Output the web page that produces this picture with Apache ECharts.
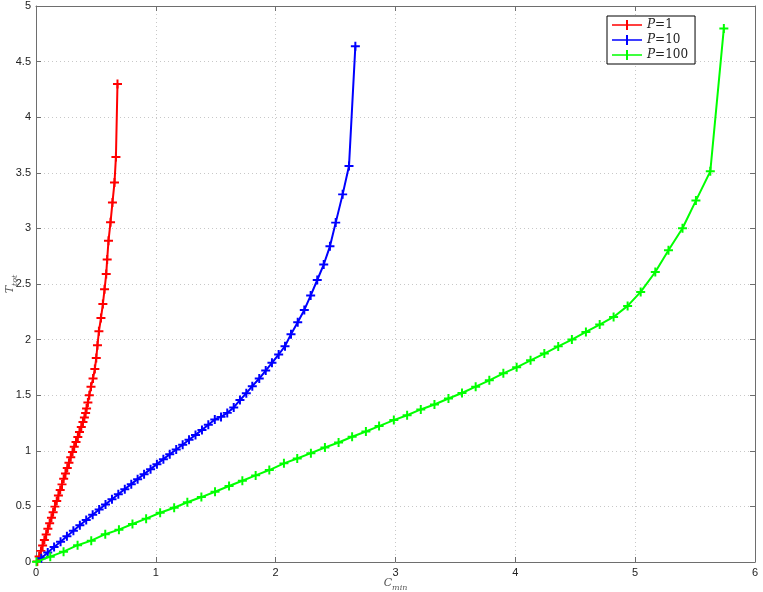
<!DOCTYPE html>
<html>
<head>
<meta charset="utf-8">
<script src="https://cdn.jsdelivr.net/npm/echarts@6/dist/echarts.min.js"></script>
<style>
  html, body { margin: 0; padding: 0; background: #fff; }
  #chart { width: 763px; height: 592px; }
</style>
</head>
<body>
<div id="chart"></div>
<script>
// values
const xTicks = [0, 1, 2, 3, 4, 5, 6]
const yTicks = [0, 0.5, 1, 1.5, 2, 2.5, 3, 3.5, 4, 4.5, 5]
const seriesNames = ['1', '10', '100']

const p1X = [0.011, 0.026, 0.041, 0.055, 0.070, 0.085, 0.099, 0.114, 0.129, 0.143,
    0.158, 0.173, 0.187, 0.202, 0.217, 0.231, 0.246, 0.261, 0.275, 0.290,
    0.305, 0.319, 0.334, 0.349, 0.363, 0.378, 0.392, 0.404, 0.414, 0.422,
    0.433, 0.445, 0.459, 0.476, 0.491, 0.503, 0.513, 0.525, 0.542, 0.558,
    0.572, 0.586, 0.594, 0.605, 0.622, 0.638, 0.655, 0.667, 0.680]
const p1Y = [0.005, 0.050, 0.100, 0.148, 0.198, 0.248, 0.298, 0.348, 0.398, 0.448,
    0.498, 0.548, 0.598, 0.648, 0.698, 0.748, 0.796, 0.845, 0.893, 0.942,
    0.990, 1.036, 1.080, 1.125, 1.170, 1.215, 1.258, 1.300, 1.340, 1.381,
    1.434, 1.500, 1.575, 1.650, 1.736, 1.835, 1.949, 2.075, 2.194, 2.320,
    2.452, 2.589, 2.721, 2.889, 3.056, 3.232, 3.412, 3.643, 4.298]

const p10X = [0.044, 0.098, 0.151, 0.205, 0.258, 0.312, 0.366, 0.419, 0.473, 0.527,
    0.580, 0.634, 0.687, 0.741, 0.795, 0.848, 0.902, 0.956, 1.009, 1.063,
    1.116, 1.170, 1.224, 1.277, 1.331, 1.385, 1.438, 1.492, 1.544, 1.596,
    1.650, 1.702, 1.755, 1.805, 1.863, 1.917, 1.969, 2.025, 2.078, 2.128,
    2.184, 2.239, 2.292, 2.347, 2.401, 2.453, 2.501, 2.559, 2.612, 2.665]
const p10Y = [0.034, 0.085, 0.134, 0.183, 0.232, 0.281, 0.330, 0.378, 0.425, 0.472,
    0.518, 0.564, 0.610, 0.655, 0.700, 0.745, 0.790, 0.835, 0.880, 0.925,
    0.968, 1.012, 1.055, 1.099, 1.143, 1.188, 1.234, 1.282, 1.305, 1.341,
    1.390, 1.456, 1.518, 1.581, 1.650, 1.722, 1.791, 1.866, 1.941, 2.049,
    2.156, 2.267, 2.396, 2.536, 2.675, 2.839, 3.052, 3.306, 3.561, 4.639]

const p100X = [0.004, 0.119, 0.230, 0.347, 0.461, 0.578, 0.692, 0.805, 0.919, 1.036,
    1.153, 1.263, 1.380, 1.494, 1.611, 1.722, 1.833, 1.947, 2.069, 2.180,
    2.294, 2.411, 2.525, 2.638, 2.753, 2.863, 2.986, 3.097, 3.211, 3.325,
    3.442, 3.555, 3.669, 3.783, 3.900, 4.011, 4.127, 4.242, 4.358, 4.472,
    4.589, 4.704, 4.820, 4.937, 5.046, 5.168, 5.278, 5.395, 5.507, 5.627, 5.740]
const p100Y = [0.002, 0.048, 0.093, 0.151, 0.192, 0.250, 0.291, 0.342, 0.390, 0.443,
    0.488, 0.537, 0.584, 0.632, 0.683, 0.731, 0.779, 0.827, 0.887, 0.931,
    0.979, 1.030, 1.075, 1.126, 1.174, 1.222, 1.276, 1.320, 1.372, 1.416,
    1.470, 1.520, 1.577, 1.634, 1.697, 1.751, 1.814, 1.874, 1.939, 2.000,
    2.069, 2.135, 2.204, 2.303, 2.429, 2.608, 2.803, 3.001, 3.250, 3.513, 4.798]

const colors = ['#ff0000', '#0000ff', '#00ff00']

const zip = (xs, ys) => xs.map((x, i) => [x, ys[i]])

const plus = 'path://M3.9,0H6.1V3.9H10V6.1H6.1V10H3.9V6.1H0V3.9H3.9Z'
const legendIcon = 'path://M0,4.3H14V0H16V4.3H30V5.7H16V10H14V5.7H0Z'

const axisGray = '#6e6e6e'
const labelFont = 'Liberation Sans, Arial, sans-serif'
const mathFont = 'DejaVu Serif, Liberation Serif, serif'

const chart = echarts.init(document.getElementById('chart'))

function valueAxis(pos, min, max, ticks, main) {
    const step = ticks[1] - ticks[0]
    return {
        type: 'value',
        position: pos,
        min: min,
        max: max,
        interval: step,
        axisLine: { show: true, onZero: false, lineStyle: { color: axisGray, width: 1 } },
        axisTick: { show: true, inside: true, length: 5, lineStyle: { color: axisGray } },
        axisLabel: {
            show: main,
            color: '#222',
            fontFamily: labelFont,
            fontSize: 11,
            margin: 5
        },
        splitLine: {
            show: main,
            lineStyle: { color: '#c8c8c8', type: [1, 3], width: 1 }
        }
    }
}

// axis titles: italic letter with a small italic subscript
const nameRich = {
    v: { fontFamily: mathFont, fontStyle: 'italic', fontSize: 11, color: '#555', verticalAlign: 'bottom' },
    s: { fontFamily: mathFont, fontStyle: 'italic', fontSize: 8, color: '#555', verticalAlign: 'bottom', padding: [0, 0, -3, 0] }
}

const xMain = valueAxis('bottom', xTicks[0], xTicks[xTicks.length - 1], xTicks, true)
xMain.name = '{v|C}{s|min}'
xMain.nameLocation = 'middle'
xMain.nameGap = 16
xMain.nameMoveOverlap = false
xMain.nameTextStyle = { rich: nameRich }

const yMain = valueAxis('left', yTicks[0], yTicks[yTicks.length - 1], yTicks, true)
yMain.name = '{v|T}{s|tot}'
yMain.nameLocation = 'middle'
yMain.nameGap = 20
yMain.nameMoveOverlap = false
yMain.nameTextStyle = { rich: nameRich }

const pointSets = [zip(p1X, p1Y), zip(p10X, p10Y), zip(p100X, p100Y)]

const option = {
    animation: false,
    backgroundColor: '#fff',
    grid: { left: 36, right: 8, top: 6, bottom: 30, containLabel: false, outerBoundsMode: 'none' },
    xAxis: [
        xMain,
        valueAxis('top', xTicks[0], xTicks[xTicks.length - 1], xTicks, false)
    ],
    yAxis: [
        yMain,
        valueAxis('right', yTicks[0], yTicks[yTicks.length - 1], yTicks, false)
    ],
    legend: {
        left: 607,
        top: 16,
        orient: 'vertical',
        backgroundColor: '#fff',
        borderColor: '#000',
        borderWidth: 1,
        padding: [3, 7, 3, 5],
        itemGap: 3,
        itemWidth: 30,
        itemHeight: 10,
        icon: legendIcon,
        formatter: name => '{i|P}{t|=' + name + '}',
        textStyle: {
            rich: {
                i: { fontFamily: mathFont, fontStyle: 'italic', fontSize: 12, color: '#222' },
                t: { fontFamily: mathFont, fontSize: 12, color: '#222' }
            }
        },
        data: seriesNames
    },
    series: seriesNames.map((nm, i) => ({
        name: nm,
        type: 'line',
        xAxisIndex: 0,
        yAxisIndex: 0,
        data: pointSets[i],
        symbol: plus,
        symbolSize: 9,
        showAllSymbol: true,
        color: colors[i],
        lineStyle: { color: colors[i], width: 2 },
        itemStyle: { color: colors[i] },
        z: 3 + i
    }))
}

chart.setOption(option)
</script>
</body>
</html>
